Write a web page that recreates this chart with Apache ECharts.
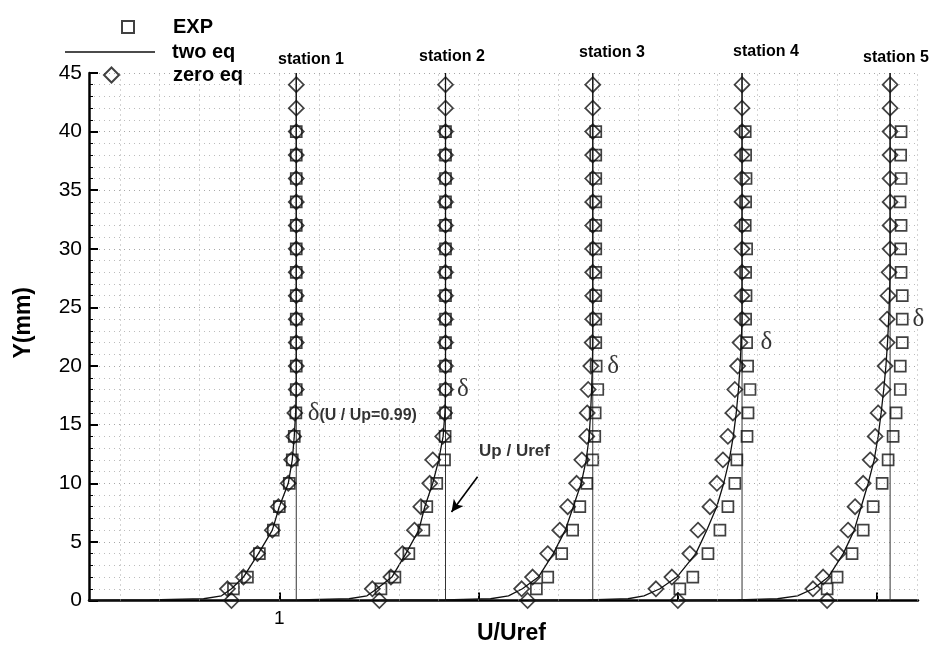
<!DOCTYPE html>
<html>
<head>
<meta charset="utf-8">
<script src="https://cdn.jsdelivr.net/npm/echarts@6/dist/echarts.min.js"></script>
<style>
  html, body { margin: 0; padding: 0; background: #fff; }
  #chart { width: 932px; height: 650px; }
</style>
</head>
<body>
<div id="chart"></div>
<script>
// Measurement stations along the plate; each profile is shifted right by its offset
const stationNames = ['station 1', 'station 2', 'station 3', 'station 4', 'station 5'];
const stationOffset = [0, 0.75, 1.5, 2.25, 3.0];
// Edge velocity Up/Uref at each station (thin vertical reference lines)
const upUref = [1.085, 1.084, 1.073, 1.072, 1.065];
// Boundary-layer thickness delta (U/Up = 0.99), mm
const deltaY = [16, 18, 20, 22, 24];

// zero-equation model (diamonds)
const zeroEqY = [0, 1, 2, 4, 6, 8, 10, 12, 14, 16, 18, 20, 22, 24, 26, 28, 30, 32, 34, 36, 38, 40, 42, 44];
const zeroEqU = [
  [0.76, 0.74, 0.82, 0.89, 0.965, 0.995, 1.045, 1.062, 1.072, 1.078, 1.085, 1.085, 1.085, 1.085, 1.085, 1.085, 1.085, 1.085, 1.085, 1.085, 1.085, 1.085, 1.085, 1.085],
  [0.752, 0.717, 0.81, 0.868, 0.928, 0.96, 1.005, 1.02, 1.07, 1.08, 1.084, 1.084, 1.084, 1.084, 1.084, 1.084, 1.084, 1.084, 1.084, 1.084, 1.084, 1.084, 1.084, 1.084],
  [0.746, 0.716, 0.771, 0.847, 0.907, 0.947, 0.992, 1.018, 1.043, 1.045, 1.05, 1.063, 1.07, 1.073, 1.073, 1.073, 1.073, 1.073, 1.073, 1.073, 1.073, 1.073, 1.073, 1.073],
  [0.75, 0.64, 0.72, 0.81, 0.851, 0.911, 0.946, 0.976, 1.001, 1.026, 1.036, 1.05, 1.062, 1.072, 1.072, 1.072, 1.072, 1.072, 1.072, 1.072, 1.072, 1.072, 1.072, 1.072],
  [0.749, 0.678, 0.729, 0.804, 0.854, 0.889, 0.93, 0.965, 0.99, 1.005, 1.03, 1.04, 1.05, 1.05, 1.055, 1.06, 1.065, 1.065, 1.065, 1.065, 1.065, 1.065, 1.065, 1.065]
];

// Experiment (squares)
const expY = [1, 2, 4, 6, 8, 10, 12, 14, 16, 18, 20, 22, 24, 26, 28, 30, 32, 34, 36, 38, 40];
const expU = [
  [0.77, 0.84, 0.90, 0.97, 1.0, 1.05, 1.065, 1.075, 1.083, 1.085, 1.085, 1.085, 1.085, 1.085, 1.085, 1.085, 1.085, 1.085, 1.085, 1.085, 1.085],
  [0.76, 0.83, 0.90, 0.975, 0.99, 1.04, 1.079, 1.082, 1.084, 1.084, 1.084, 1.084, 1.084, 1.084, 1.084, 1.084, 1.084, 1.084, 1.084, 1.084, 1.084],
  [0.79, 0.847, 0.917, 0.972, 1.008, 1.043, 1.073, 1.083, 1.085, 1.098, 1.09, 1.088, 1.088, 1.088, 1.088, 1.088, 1.088, 1.088, 1.088, 1.088, 1.088],
  [0.76, 0.825, 0.901, 0.961, 1.001, 1.036, 1.046, 1.097, 1.102, 1.112, 1.10, 1.095, 1.09, 1.092, 1.09, 1.095, 1.088, 1.09, 1.092, 1.09, 1.088],
  [0.749, 0.799, 0.874, 0.93, 0.98, 1.025, 1.055, 1.08, 1.095, 1.116, 1.116, 1.126, 1.126, 1.126, 1.12, 1.118, 1.12, 1.115, 1.12, 1.118, 1.12]
];

// two-equation model (solid line)
const twoEqY = [0, 0.05, 0.15, 0.4, 1, 2, 4, 6, 8, 10, 12, 14, 16, 18, 20, 22, 24, 26, 28, 45];
const twoEqU = [
  [0, 0.35, 0.62, 0.71, 0.76, 0.82, 0.895, 0.965, 1.0, 1.045, 1.065, 1.075, 1.082, 1.085, 1.085, 1.085, 1.085, 1.085, 1.085, 1.085],
  [0, 0.35, 0.6, 0.69, 0.74, 0.815, 0.885, 0.95, 0.98, 1.02, 1.05, 1.072, 1.081, 1.084, 1.084, 1.084, 1.084, 1.084, 1.084, 1.084],
  [0, 0.33, 0.56, 0.65, 0.72, 0.8, 0.875, 0.935, 0.975, 1.015, 1.04, 1.055, 1.062, 1.067, 1.071, 1.073, 1.073, 1.073, 1.073, 1.073],
  [0, 0.3, 0.5, 0.58, 0.66, 0.745, 0.84, 0.895, 0.945, 0.98, 1.008, 1.028, 1.043, 1.054, 1.062, 1.068, 1.072, 1.072, 1.072, 1.072],
  [0, 0.3, 0.5, 0.6, 0.68, 0.755, 0.83, 0.885, 0.92, 0.955, 0.985, 1.005, 1.02, 1.033, 1.044, 1.052, 1.058, 1.062, 1.065, 1.065]
];

// Axis settings
const xTickValues = [1, 2, 3, 4];
const xLabelValues = [1];
const xGridValues = [0.2, 0.4, 0.6, 0.8, 1.0, 1.2, 1.4, 1.6, 1.8, 2.0, 2.2, 2.4, 2.6, 2.8, 3.0, 3.2, 3.4, 3.6, 3.8, 4.0, 4.2];
const xRange = [0.045, 4.205];
const yRange = [0, 45];

// "Up / Uref" callout (data coordinates)
const calloutText = [2.0, 12.7];
const calloutArrow = [[1.995, 10.55], [1.864, 7.55]];

const SANS = '"Liberation Sans", Arial, Helvetica, sans-serif';
const SERIF = '"Liberation Serif", "DejaVu Serif", serif';
const INK = '#111';

const chart = echarts.init(document.getElementById('chart'), null, { renderer: 'canvas' });

const series = [];

// dotted vertical grid
series.push({
  type: 'line', name: 'grid', data: [], silent: true, z: 0,
  markLine: {
    silent: true, symbol: ['none', 'none'], label: { show: false },
    lineStyle: { color: '#a8a8a8', type: [1, 4], width: 1 },
    data: xGridValues.map(v => ({ xAxis: v }))
  }
});

// Up/Uref reference lines
stationNames.forEach((s, i) => {
  const x = stationOffset[i] + upUref[i];
  series.push({
    type: 'line', name: 'Up/Uref ' + (i + 1), symbol: 'none', silent: true, z: 1,
    lineStyle: { color: '#333', width: 1 },
    data: [[x, yRange[0]], [x, yRange[1]]]
  });
});

// two-eq profiles
stationNames.forEach((s, i) => {
  series.push({
    type: 'line', name: 'two eq', symbol: 'none', z: 3,
    itemStyle: { color: INK },
    lineStyle: { color: INK, width: 1.3 },
    data: twoEqY.map((y, k) => [stationOffset[i] + twoEqU[i][k], y])
  });
});

// EXP squares
const expData = [];
stationNames.forEach((s, i) => {
  expY.forEach((y, k) => expData.push([stationOffset[i] + expU[i][k], y]));
});
series.push({
  type: 'scatter', name: 'EXP', symbol: 'rect', symbolSize: 11, z: 4,
  itemStyle: { color: 'rgba(255,255,255,0)', borderColor: INK, borderWidth: 1.7 },
  data: expData
});

// zero-eq diamonds
const zeroData = [];
stationNames.forEach((s, i) => {
  zeroEqY.forEach((y, k) => zeroData.push([stationOffset[i] + zeroEqU[i][k], y]));
});
series.push({
  type: 'scatter', name: 'zero eq', symbol: 'diamond', symbolSize: [15, 15], z: 5,
  itemStyle: { color: 'rgba(255,255,255,0)', borderColor: INK, borderWidth: 1.7 },
  data: zeroData
});

// delta markers and callout
const deltaDistance = [11, 11, 14, 18, 22];
series.push({
  type: 'scatter', name: 'annotations', symbolSize: 1, silent: true, z: 6,
  itemStyle: { color: 'rgba(0,0,0,0)' },
  label: {
    show: true, position: 'right', color: '#000',
    rich: {
      d: { fontFamily: SERIF, fontSize: 25, color: '#000' },
      s: { fontFamily: SANS, fontSize: 16, fontWeight: 'bold', color: '#000', padding: [6, 0, 0, 0] },
      t: { fontFamily: SANS, fontSize: 17, fontWeight: 'bold', color: '#000' }
    }
  },
  data: deltaY.map((y, i) => ({
    value: [stationOffset[i] + upUref[i], y],
    label: { distance: deltaDistance[i], formatter: i === 0 ? '{d|δ}{s|(U / Up=0.99)}' : '{d|δ}' }
  })).concat([{
    value: calloutText,
    label: { distance: 0, formatter: '{t|Up / Uref}' }
  }]),
  markLine: {
    silent: true, symbol: ['none', 'arrow'], symbolSize: [9, 12],
    label: { show: false },
    lineStyle: { color: '#000', width: 1.6, type: 'solid' },
    data: [[{ coord: calloutArrow[0] }, { coord: calloutArrow[1] }]]
  }
});

const legendText = { fontFamily: SANS, fontSize: 20, fontWeight: 'bold', color: '#000' };

const option = {
  backgroundColor: '#fff',
  animation: false,
  grid: { left: 89, right: 14, top: 73, bottom: 49.5, containLabel: false, outerBoundsMode: 'none' },
  legend: [
    { data: [{ name: 'EXP', icon: 'rect' }], left: 121, top: 17, itemWidth: 12, itemHeight: 12, selectedMode: false, padding: 0,
      textStyle: Object.assign({ padding: [0, 0, 0, 34] }, legendText) },
    { data: [{ name: 'two eq', icon: 'path://M0,0L0,16M0,7.2L90,7.2L90,8.8L0,8.8Z' }], left: 65, top: 42, itemWidth: 90, itemHeight: 16, selectedMode: false, padding: 0,
      textStyle: Object.assign({ padding: [0, 0, 0, 12] }, legendText) },
    { data: [{ name: 'zero eq', icon: 'diamond' }], left: 103, top: 65, itemWidth: 15, itemHeight: 15, selectedMode: false, padding: 0,
      textStyle: Object.assign({ padding: [0, 0, 0, 49] }, legendText) }
  ],
  xAxis: {
    type: 'value', min: xRange[0], max: xRange[1],
    name: 'U/Uref', nameLocation: 'middle', nameGap: 22, nameMoveOverlap: false,
    nameTextStyle: { fontFamily: SANS, fontSize: 23, fontWeight: 'bold', color: '#000', padding: [0, 0, 0, 16] },
    axisLine: { show: true, onZero: false, lineStyle: { color: '#000', width: 2.5 } },
    axisTick: { show: true, inside: true, length: 8, customValues: xTickValues, lineStyle: { color: '#000', width: 2 } },
    axisLabel: { show: true, customValues: xLabelValues, margin: 9, fontFamily: SANS, fontSize: 19, color: '#000' },
    splitLine: { show: false }
  },
  yAxis: {
    type: 'value', min: yRange[0], max: yRange[1], interval: 5,
    name: 'Y(mm)', nameLocation: 'middle', nameGap: 54, nameRotate: 90, nameMoveOverlap: false,
    nameTextStyle: { fontFamily: SANS, fontSize: 23, fontWeight: 'bold', color: '#000', padding: [0, 0, 0, 28] },
    axisLine: { show: true, onZero: false, lineStyle: { color: '#000', width: 2.5 } },
    axisTick: { show: true, inside: true, length: 9, lineStyle: { color: '#000', width: 2 } },
    minorTick: { show: true, splitNumber: 5, length: 4, lineStyle: { color: '#000', width: 1 } },
    axisLabel: { margin: 7, fontFamily: SANS, fontSize: 21, color: '#000' },
    splitLine: { show: true, lineStyle: { color: '#a8a8a8', type: [1, 4], width: 1 } },
    minorSplitLine: { show: true, lineStyle: { color: '#bcbcbc', type: [1, 4], width: 1 } }
  },
  graphic: stationNames.map((s, i) => ({
    type: 'text',
    x: [311, 452, 612, 766, 896][i],
    y: [60, 57, 53, 52, 58][i],
    style: { text: s, font: 'bold 16px ' + SANS, fill: '#000', align: 'center', verticalAlign: 'middle' }
  })),
  series: series
};

chart.setOption(option);
</script>
</body>
</html>
